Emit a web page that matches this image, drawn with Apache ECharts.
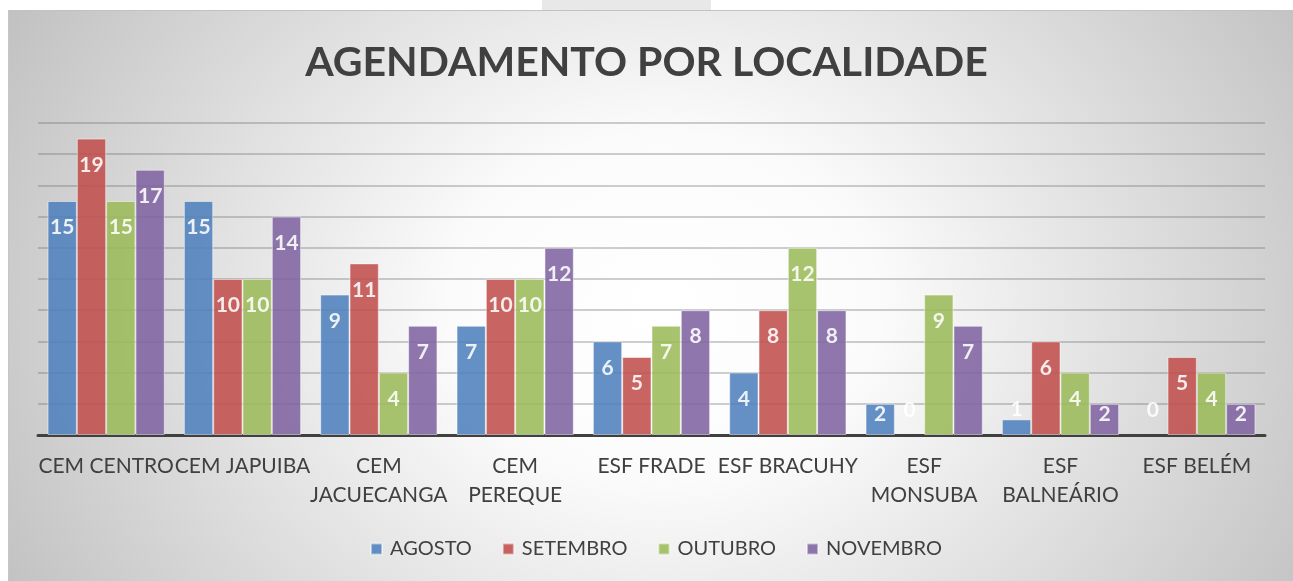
<!DOCTYPE html>
<html>
<head>
<meta charset="utf-8">
<script src="https://cdn.jsdelivr.net/npm/echarts@6/dist/echarts.min.js"></script>
<style>
  html, body { margin: 0; padding: 0; background: #ffffff; }
  #wrap { position: relative; width: 1293px; height: 581px; overflow: hidden; }
  #tab { position: absolute; left: 542px; top: 0; width: 169px; height: 10px; background: #e8e8e8; }
  #frame {
    position: absolute; left: 8px; top: 10px; right: 0; bottom: 0;
    border-top: 1px solid #c2c2c2; border-left: 1px solid #c6c6c6;
    background: radial-gradient(ellipse 760px 620px at 51% 52%, #ffffff 0%, #fbfbfb 28%, #c0c0c0 100%);
  }
  #chart { position: absolute; left: 0; top: 0; width: 1293px; height: 581px; }
</style>
</head>
<body>
<div id="wrap">
  <div id="tab"></div>
  <div id="frame"></div>
  <div id="chart"></div>
</div>
<script>
// Appointments per location, August to November
const categories = [
  'CEM CENTRO', 'CEM JAPUIBA', 'CEM\nJACUECANGA', 'CEM\nPEREQUE', 'ESF FRADE',
  'ESF BRACUHY', 'ESF\nMONSUBA', 'ESF\nBALNEÁRIO', 'ESF BELÉM'
];
const agosto   = [15, 15, 9, 7, 6, 4, 2, 1, 0];
const setembro = [19, 10, 11, 10, 5, 8, 0, 6, 5];
const outubro  = [15, 10, 4, 10, 7, 12, 9, 4, 4];
const novembro = [17, 14, 7, 12, 8, 8, 7, 2, 2];
const seriesNames = ['AGOSTO', 'SETEMBRO', 'OUTUBRO', 'NOVEMBRO'];
const colors = ['#4F81BD', '#C0504D', '#9BBB59', '#8064A2'];

const FONT = 'Lato';

// value labels sit inside the bar end; tiny bars push the label above
function labelFor(v) {
  if (v === 0) return { position: 'top', distance: 14 };
  if (v === 1) return { position: 'top', distance: 0 };
  if (v === 2) return { position: 'insideTop', distance: 0 };
  return { position: 'insideTop', distance: 16 };
}

function makeSeries(name, values, color) {
  return {
    name: name,
    type: 'bar',
    barGap: '0%',
    barCategoryGap: '14%',
    itemStyle: { color: color, opacity: 0.88, borderColor: 'rgba(255,255,255,0.55)', borderWidth: 1 },
    label: {
      show: true, color: '#ffffff', fontFamily: FONT, fontWeight: 'bold', fontSize: 21
    },
    data: values.map(v => ({
      value: v,
      label: labelFor(v),
      // an empty bar leaves no outline on the axis
      itemStyle: v === 0 ? { borderWidth: 0, color: 'rgba(0,0,0,0)' } : undefined
    }))
  };
}

const chart = echarts.init(document.getElementById('chart'), null, { renderer: 'canvas' });
chart.setOption({
  backgroundColor: 'transparent',
  animation: false,
  color: colors,
  title: {
    text: 'AGENDAMENTO POR LOCALIDADE',
    left: 'center', top: 37,
    textStyle: { fontFamily: FONT, fontWeight: 'bold', fontSize: 41, color: '#404040' }
  },
  legend: {
    data: seriesNames,
    bottom: 17, left: 365,
    icon: 'rect', itemWidth: 11, itemHeight: 11, itemGap: 30,
    textStyle: { fontFamily: FONT, fontSize: 20, color: '#404040', padding: [0, 0, 0, 3] }
  },
  grid: { left: 38, right: 28, top: 123, bottom: 146, containLabel: false },
  xAxis: {
    type: 'category',
    data: categories,
    axisTick: { show: false },
    axisLine: { lineStyle: { color: '#404040', width: 3 } },
    axisLabel: {
      interval: 0, margin: 17, fontFamily: FONT, fontSize: 21, color: '#404040', lineHeight: 29
    }
  },
  yAxis: {
    type: 'value', min: 0, max: 20, interval: 2,
    axisLabel: { show: false },
    axisLine: { show: false },
    axisTick: { show: false },
    splitLine: { lineStyle: { color: 'rgba(110,110,110,0.45)', width: 1.5 } }
  },
  series: [
    makeSeries(seriesNames[0], agosto, colors[0]),
    makeSeries(seriesNames[1], setembro, colors[1]),
    makeSeries(seriesNames[2], outubro, colors[2]),
    makeSeries(seriesNames[3], novembro, colors[3])
  ]
});
</script>
</body>
</html>
